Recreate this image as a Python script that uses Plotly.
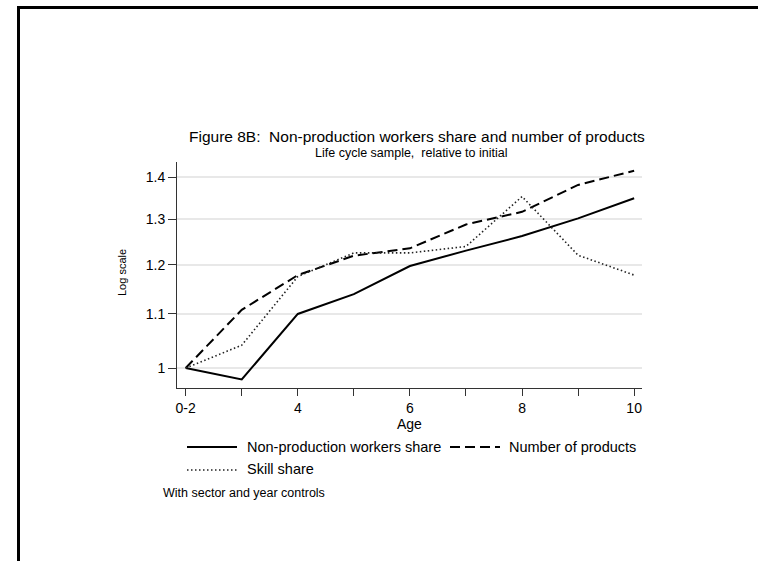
import plotly.graph_objects as go

# Age groups (first point covers ages 0-2)
ages = [2, 3, 4, 5, 6, 7, 8, 9, 10]
age_ticks = [2, 3, 4, 5, 6, 7, 8, 9, 10]
age_labels = ["0-2", "", "4", "", "6", "", "8", "", "10"]

# Indices relative to initial value
nonprod_share = [1.000, 0.980, 1.100, 1.139, 1.197, 1.230, 1.262, 1.302, 1.349]
num_products = [1.000, 1.108, 1.178, 1.219, 1.235, 1.288, 1.317, 1.381, 1.416]
skill_share = [1.000, 1.041, 1.175, 1.225, 1.225, 1.239, 1.353, 1.220, 1.178]

y_ticks = [1.0, 1.1, 1.2, 1.3, 1.4]
y_labels = ["1", "1.1", "1.2", "1.3", "1.4"]

W, H = 758, 561
L, R, T, B = 177, 642, 162, 388
FONT = "Liberation Sans, Arial, sans-serif"


def px(x):
    return (x - L) / (R - L)


def py(y):
    return (B - y) / (B - T)


DASH = "10px,5px"
DOT = "1.5px,2.5px"

fig = go.Figure()
fig.add_trace(go.Scatter(x=ages, y=nonprod_share, mode="lines",
                         line=dict(color="black", width=2),
                         name="Non-production workers share"))
fig.add_trace(go.Scatter(x=ages, y=num_products, mode="lines",
                         line=dict(color="black", width=2, dash=DASH),
                         name="Number of products"))
fig.add_trace(go.Scatter(x=ages, y=skill_share, mode="lines",
                         line=dict(color="#222222", width=1.6, dash=DOT),
                         name="Skill share"))

shapes = []
# outer frame (top and left edges)
shapes.append(dict(type="line", xref="paper", yref="paper",
                   x0=px(17), x1=px(W + 2), y0=py(7.5), y1=py(7.5),
                   line=dict(color="black", width=3)))
shapes.append(dict(type="line", xref="paper", yref="paper",
                   x0=px(18.5), x1=px(18.5), y0=py(6), y1=py(H + 2),
                   line=dict(color="black", width=3)))

# legend keys
legend_keys = [
    (187, 237, 447, "solid", 2, "black"),
    (450, 500, 447, DASH, 2, "black"),
    (187, 237, 470, DOT, 1.6, "#222222"),
]
for x0, x1, yy, dash, w, c in legend_keys:
    shapes.append(dict(type="line", xref="paper", yref="paper",
                       x0=px(x0), x1=px(x1), y0=py(yy), y1=py(yy),
                       line=dict(color=c, width=w, dash=dash)))

annotations = [
    dict(text="Figure 8B:  Non-production workers share and number of products",
         x=px(417), y=py(136), xanchor="center", yanchor="middle",
         font=dict(size=15.5)),
    dict(text="Life cycle sample,  relative to initial",
         x=px(411), y=py(153), xanchor="center", yanchor="middle",
         font=dict(size=12.5)),
    dict(text="Log scale", x=px(122), y=py(273), textangle=-90,
         xanchor="center", yanchor="middle", font=dict(size=11)),
    dict(text="Age", x=px(409.5), y=py(424), xanchor="center", yanchor="middle",
         font=dict(size=14)),
    dict(text="Non-production workers share", x=px(245), y=py(447),
         xanchor="left", yanchor="middle", font=dict(size=14.5)),
    dict(text="Number of products", x=px(507), y=py(447),
         xanchor="left", yanchor="middle", font=dict(size=14.5)),
    dict(text="Skill share", x=px(245), y=py(469),
         xanchor="left", yanchor="middle", font=dict(size=14.5)),
    dict(text="With sector and year controls", x=px(161), y=py(493),
         xanchor="left", yanchor="middle", font=dict(size=12.5)),
]
for a in annotations:
    a.update(xref="paper", yref="paper", showarrow=False)
    a["font"].update(family=FONT, color="black")

fig.update_layout(
    width=W, height=H,
    margin=dict(l=L, r=W - R, t=T, b=H - B, pad=0),
    paper_bgcolor="white", plot_bgcolor="white",
    showlegend=False,
    font=dict(family=FONT, color="black", size=14),
    shapes=shapes, annotations=annotations,
)
fig.update_xaxes(range=[1.845, 10.14], tickvals=age_ticks, ticktext=age_labels,
                 ticks="outside", ticklen=7, tickcolor="#333333",
                 showline=True, linecolor="#333333", linewidth=1,
                 showgrid=False, zeroline=False, ticklabelstandoff=0,
                 tickfont=dict(size=14, family=FONT, color="black"))
fig.update_yaxes(type="log", range=[-0.01532, 0.15776],
                 tickvals=y_ticks, ticktext=y_labels,
                 ticks="outside", ticklen=8, tickcolor="#333333",
                 showline=True, linecolor="#333333", linewidth=1,
                 showgrid=True, gridcolor="#e8e8e8", gridwidth=2,
                 zeroline=False,
                 tickfont=dict(size=14, family=FONT, color="black"))

fig.write_html("out.html")
